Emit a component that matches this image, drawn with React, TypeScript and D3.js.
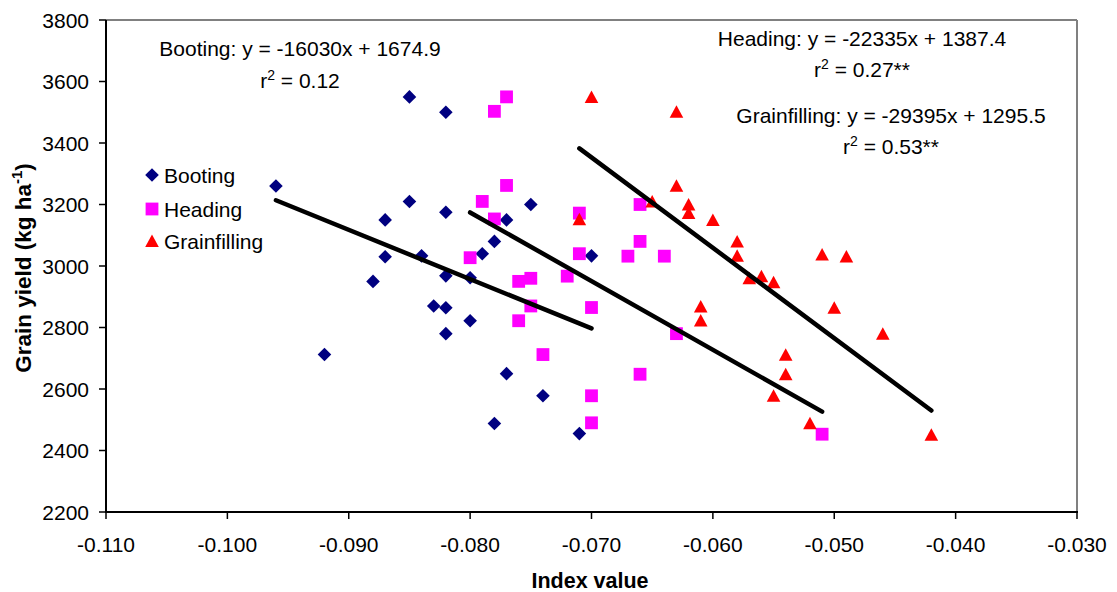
import React from "react";
import * as d3 from "d3";

const bootX = [-0.096, -0.085, -0.082, -0.085, -0.082, -0.087, -0.087, -0.084, -0.088, -0.092, -0.082, -0.083, -0.082, -0.082, -0.080, -0.080, -0.079, -0.078, -0.077, -0.075, -0.077, -0.078, -0.074, -0.071, -0.070];
const bootY = [3260, 3550, 3500, 3210, 3175, 3150, 3030, 3033, 2950, 2712, 2968, 2870, 2864, 2780, 2822, 2962, 3040, 3080, 3150, 3200, 2650, 2488, 2578, 2455, 3033];

const headX = [-0.077, -0.078, -0.077, -0.079, -0.078, -0.071, -0.066, -0.066, -0.071, -0.067, -0.064, -0.080, -0.072, -0.076, -0.075, -0.075, -0.070, -0.076, -0.063, -0.074, -0.066, -0.070, -0.070, -0.051];
const headY = [3550, 3503, 3262, 3210, 3153, 3172, 3200, 3080, 3040, 3032, 3032, 3027, 2967, 2950, 2960, 2870, 2865, 2822, 2780, 2712, 2648, 2578, 2490, 2453];

const grainX = [-0.070, -0.063, -0.063, -0.065, -0.062, -0.062, -0.060, -0.071, -0.058, -0.058, -0.051, -0.049, -0.057, -0.056, -0.055, -0.050, -0.046, -0.054, -0.054, -0.055, -0.052, -0.042, -0.061, -0.061];
const grainY = [3550, 3502, 3261, 3210, 3200, 3172, 3150, 3152, 3080, 3033, 3037, 3031, 2960, 2967, 2947, 2864, 2780, 2711, 2648, 2578, 2489, 2451, 2868, 2823];

const seriesNames = ["Booting", "Heading", "Grainfilling"];
const seriesColors = ["#000080", "#FF00FF", "#FF0000"];
const slopes = [-16030, -22335, -29395];
const intercepts = [1674.9, 1387.4, 1295.5];
const eqTexts = ["Booting: y = -16030x + 1674.9", "Heading: y = -22335x + 1387.4", "Grainfilling: y = -29395x + 1295.5"];
const r2Texts = [" = 0.12", " = 0.27**", " = 0.53**"];

const xTicks = [-0.11, -0.1, -0.09, -0.08, -0.07, -0.06, -0.05, -0.04, -0.03];
const yTicks = [2200, 2400, 2600, 2800, 3000, 3200, 3400, 3600, 3800];

const FONT = "'Liberation Sans', Arial, sans-serif";
const FS = 21;

function Marker({ kind, cx, cy, color }: { kind: number; cx: number; cy: number; color: string }) {
  if (kind === 0) {
    const r = 6.8;
    return <path d={`M${cx},${cy - r}L${cx + r},${cy}L${cx},${cy + r}L${cx - r},${cy}Z`} fill={color} />;
  }
  if (kind === 1) {
    const h = 6.4;
    return <rect x={cx - h} y={cy - h} width={2 * h} height={2 * h} fill={color} />;
  }
  const w = 6.8;
  return <path d={`M${cx},${cy - 6.5}L${cx + w},${cy + 6}L${cx - w},${cy + 6}Z`} fill={color} />;
}

export default function App() {
  const x = d3.scaleLinear().domain([-0.11, -0.03]).range([106, 1077]);
  const y = d3.scaleLinear().domain([2200, 3800]).range([512, 20]);
  const data = [
    [bootX, bootY],
    [headX, headY],
    [grainX, grainY],
  ];
  const fmt = (v: number) => d3.format(".3f")(v).replace("\u2212", "-");
  const line = d3.line<[number, number]>().x((d) => x(d[0])).y((d) => y(d[1]));

  const eqPos = [
    { cx: 300, y1: 56, y2: 88 },
    { cx: 862, y1: 46, y2: 77 },
    { cx: 891, y1: 123, y2: 154 },
  ];
  const legendY = [175, 209, 241];

  return (
    <svg width={1117} height={592} style={{ position: "absolute", left: 0, top: 0, background: "#fff" }} fontFamily={FONT}>
      <rect x={0} y={0} width={1117} height={592} fill="#fff" />
      <line x1={106} x2={1077} y1={20} y2={20} stroke="#808080" strokeWidth={2} />
      <line x1={1077} x2={1077} y1={20} y2={512} stroke="#808080" strokeWidth={2} />
      <line x1={106} x2={106} y1={20} y2={513} stroke="#000" strokeWidth={2} />
      <line x1={105} x2={1078} y1={512} y2={512} stroke="#000" strokeWidth={2} />
      {yTicks.map((t) => (
        <g key={"y" + t}>
          <line x1={99} x2={106} y1={y(t)} y2={y(t)} stroke="#000" strokeWidth={1.5} />
          <text x={89} y={y(t) + 7.5} textAnchor="end" fontSize={FS}>{t}</text>
        </g>
      ))}
      {xTicks.map((t) => (
        <g key={"x" + t}>
          <line x1={x(t)} x2={x(t)} y1={512} y2={519} stroke="#000" strokeWidth={1.5} />
          <text x={x(t)} y={552} textAnchor="middle" fontSize={FS}>{fmt(t)}</text>
        </g>
      ))}
      <text x={590} y={588} textAnchor="middle" fontSize={21.5} fontWeight="bold">Index value</text>
      <text transform="translate(31,268) rotate(-90)" textAnchor="middle" fontSize={22.5} fontWeight="bold">
        Grain yield (kg ha<tspan dy={-9} fontSize={15}>-1</tspan><tspan dy={9}>)</tspan>
      </text>

      {data.map(([xs, ys], si) => (
        <g key={"s" + si}>
          {xs.map((xv, i) => (
            <Marker key={i} kind={si} cx={x(xv)} cy={y(ys[i])} color={seriesColors[si]} />
          ))}
        </g>
      ))}

      {data.map(([xs], si) => {
        const x0 = d3.min(xs) as number;
        const x1 = d3.max(xs) as number;
        const pts: [number, number][] = [
          [x0, slopes[si] * x0 + intercepts[si]],
          [x1, slopes[si] * x1 + intercepts[si]],
        ];
        return <path key={"l" + si} d={line(pts) || ""} stroke="#000" strokeWidth={4.5} fill="none" strokeLinecap="round" />;
      })}

      {eqTexts.map((t, i) => (
        <g key={"e" + i}>
          <text x={eqPos[i].cx} y={eqPos[i].y1} textAnchor="middle" fontSize={FS}>{t}</text>
          <text x={eqPos[i].cx} y={eqPos[i].y2} textAnchor="middle" fontSize={FS}>
            r<tspan dy={-8} fontSize={14}>2</tspan><tspan dy={8}>{r2Texts[i]}</tspan>
          </text>
        </g>
      ))}

      {seriesNames.map((n, i) => (
        <g key={"lg" + i}>
          <Marker kind={i} cx={152} cy={legendY[i]} color={seriesColors[i]} />
          <text x={164} y={legendY[i] + 8} fontSize={FS}>{n}</text>
        </g>
      ))}
    </svg>
  );
}
